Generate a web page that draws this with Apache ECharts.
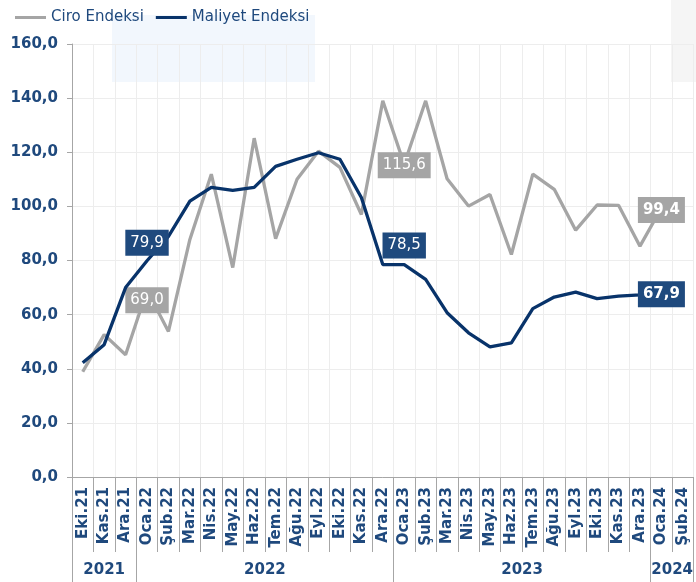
<!DOCTYPE html>
<html>
<head>
<meta charset="utf-8">
<script src="https://cdn.jsdelivr.net/npm/echarts@6/dist/echarts.min.js"></script>
<style>html,body{margin:0;padding:0;background:#fff}#c{width:696px;height:582px}</style>
</head>
<body>
<div id="c"></div>
<script>
var months = ['Eki.21','Kas.21','Ara.21','Oca.22','Şub.22','Mar.22','Nis.22','May.22','Haz.22','Tem.22','Ağu.22','Eyl.22','Eki.22','Kas.22','Ara.22','Oca.23','Şub.23','Mar.23','Nis.23','May.23','Haz.23','Tem.23','Ağu.23','Eyl.23','Eki.23','Kas.23','Ara.23','Oca.24','Şub.24'];
var ciro = [38.9,52.6,45.2,69.0,53.8,87.8,111.9,77.4,125.2,88.1,110.0,120.4,114.4,97.0,139.0,115.6,139.0,110.2,100.1,104.4,82.2,111.9,106.3,91.2,100.5,100.4,85.3,99.4,null];
var maliyet = [42.2,48.9,70.0,79.9,88.9,101.9,107.0,105.9,107.0,114.8,117.4,119.8,117.4,103.3,78.5,78.5,73.0,60.7,53.3,48.1,49.6,62.2,66.5,68.3,65.9,66.8,67.3,67.9,null];
var years = ['2021','2022','2023','2024'];
var yearSpans = [3,12,12,2];
var labelIdx = [3,15,27];

var FONT = 'DejaVu Sans, Verdana, sans-serif';
var TXT = '#1F497D';
var GRAY = '#A5A5A5';
var NAVY = '#08336A';
var NAVYBOX = '#1F4A7E';

function fmt(v){ return Number(v).toFixed(1).replace('.', ','); }

var bounds = [0], centers = [], acc = 0;
yearSpans.forEach(function(s){ centers.push(acc + s/2); acc += s; bounds.push(acc); });

var ciroOffsets = {3:[0,10],15:[0,1],27:[0,2]};
var malOffsets = {3:[0,-18],15:[0,-19],27:[0,1]};
var boldIdx = {27:true};

function buildData(arr, offsets, bg){
  return arr.map(function(v,i){
    if (labelIdx.indexOf(i) >= 0 && v != null) {
      return {value: v, label: {
        show: true, position: 'inside', offset: offsets[i],
        formatter: function(p){ return fmt(p.value); },
        backgroundColor: bg, color: '#fff', fontFamily: FONT, fontSize: 15,
        fontWeight: boldIdx[i] ? 'bold' : 'normal',
        padding: [6,5,5,5]
      }};
    }
    return v;
  });
}

var chart = echarts.init(document.getElementById('c'), null, {renderer:'canvas'});
chart.setOption({
  animation: false,
  backgroundColor: '#fff',
  graphic: [
    {type:'rect', left:112, top:15, shape:{width:203, height:67}, style:{fill:'#F2F7FD'}, z:-10, silent:true},
    {type:'rect', left:671, top:0, shape:{width:25, height:82}, style:{fill:'#F5F5F5'}, z:-10, silent:true}
  ],
  legend: {
    left: 10, top: 5, icon: 'rect', itemWidth: 31, itemHeight: 3, itemGap: 12,
    textStyle: {fontFamily: FONT, fontSize: 15, color: TXT},
    data: ['Ciro Endeksi','Maliyet Endeksi']
  },
  grid: {left: 72, top: 44, width: 624, bottom: 105, containLabel: false},
  xAxis: [{
    type: 'category', data: months, boundaryGap: true, position: 'bottom',
    axisLine: {show: true, lineStyle: {color: '#A6A6A6', width: 1}},
    axisTick: {show: true, length: 75, lineStyle: {color: '#A6A6A6'}},
    axisLabel: {rotate: 90, margin: 10, fontFamily: FONT, fontSize: 15, fontWeight: 'bold', color: TXT, interval: 0},
    splitLine: {show: true, lineStyle: {color: '#EDEDED'}}
  },{
    type: 'value', min: 0, max: acc, position: 'bottom', gridIndex: 0,
    axisLine: {show: false},
    axisTick: {show: true, length: 106, customValues: bounds, lineStyle: {color: '#A6A6A6'}},
    axisLabel: {show: true, margin: 86, customValues: centers,
      formatter: function(v){ var k = centers.indexOf(v); return k >= 0 ? years[k] : ''; },
      fontFamily: FONT, fontSize: 15, fontWeight: 'bold', color: TXT},
    splitLine: {show: false}
  }],
  yAxis: {
    type: 'value', min: 0, max: 160, interval: 20,
    axisLine: {show: true, lineStyle: {color: '#A6A6A6'}},
    axisTick: {show: true, length: 5, lineStyle: {color: '#A6A6A6'}},
    axisLabel: {margin: 14, fontFamily: FONT, fontSize: 15, fontWeight: 'bold', color: TXT,
      formatter: function(v){ return fmt(v); }},
    splitLine: {show: true, lineStyle: {color: '#EDEDED'}}
  },
  series: [{
    name: 'Ciro Endeksi', type: 'line', xAxisIndex: 0, data: buildData(ciro, ciroOffsets, GRAY),
    showSymbol: true, symbol: 'circle', symbolSize: 0.01, lineStyle: {color: GRAY, width: 3.3}, itemStyle: {color: GRAY}, z: 2
  },{
    name: 'Maliyet Endeksi', type: 'line', xAxisIndex: 0, data: buildData(maliyet, malOffsets, NAVYBOX),
    showSymbol: true, symbol: 'circle', symbolSize: 0.01, lineStyle: {color: NAVY, width: 3.3}, itemStyle: {color: NAVY}, z: 3
  }]
});
</script>
</body>
</html>
